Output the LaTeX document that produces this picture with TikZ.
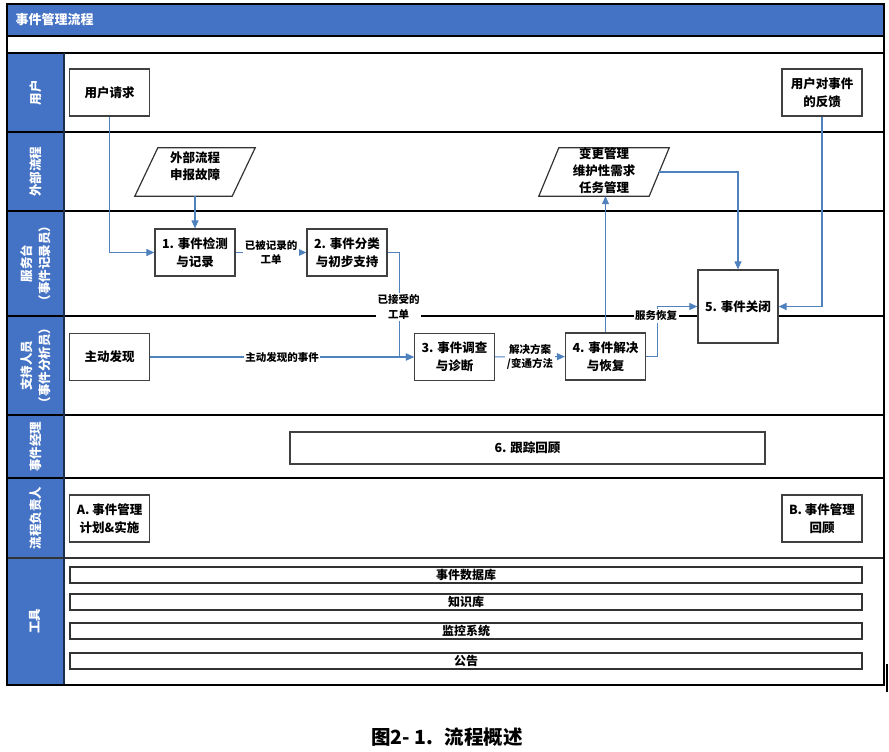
\documentclass[tikz,border=0pt]{standalone}
\usepackage{fontspec}
\newfontfamily\cjk{Noto Sans CJK SC}
\usetikzlibrary{arrows.meta}
\definecolor{laneblue}{RGB}{68,114,196}
\definecolor{flowblue}{RGB}{79,129,189}
\tikzset{
  box/.style = {draw = black!75, line width = 1.2pt, fill = white, align = center,
    minimum width = 80pt, minimum height = 47pt, inner sep = 0pt,
    font = \cjk\bfseries\fontsize{12.5}{18}\selectfont},
  boxtxt/.style = {align = center, inner sep = 0pt,
    font = \cjk\bfseries\fontsize{12.5}{17}\selectfont},
  paraframe/.style = {minimum height = 48pt, inner sep = 0pt},
  paraline/.style = {draw = black!80, line width = 1.2pt},
  flow/.style = {draw = flowblue, line width = 1.1pt, -{Triangle[length = 8pt, width = 7pt]}},
  lbl/.style = {fill = white, inner sep = 1.5pt, align = center,
    font = \cjk\bfseries\fontsize{10.5}{14.5}\selectfont},
  lanetxt/.style = {rotate = 90, text = white, align = center,
    font = \cjk\bfseries\fontsize{12.5}{18}\selectfont},
  toolbar/.style = {draw = black!80, line width = 1.2pt, minimum width = 792pt,
    minimum height = 16pt, inner sep = 0pt,
    font = \cjk\bfseries\fontsize{12}{14}\selectfont}
}
\begin{document}
\begin{tikzpicture}[x = 1pt, y = -1pt]
\useasboundingbox (0, 0) rectangle (889, 752);
% header and swim lanes
\fill[laneblue] (7, 4) rectangle (884, 36);
\fill[laneblue] (7, 53) rectangle (64, 685);
\node[anchor = west, text = white, font = \cjk\bfseries\fontsize{13}{15}\selectfont]
  (title) at (12, 20) {事件管理流程};
\foreach \y in {36, 53, 132, 211, 316, 415, 478}
  \draw[line width = 1.2pt] (7, \y) -- (884, \y);
\draw[line width = 1.6pt, black!80] (7, 558) -- (884, 558);
\draw[line width = 1.2pt, black!60!laneblue] (64, 53) -- (64, 685);
\draw[line width = 1.4pt] (7, 4) rectangle (884, 685);
\foreach \yc/\txt [count = \i] in {92.5/用户, 171.5/外部流程, 263.5/{服务台\\（事件记录员）},
    365.5/{支持人员\\（事件分析员）}, 446.5/事件经理, 518/流程负责人, 621/工具}
  \node[lanetxt] (lane\i) at (35.5, \yc) {\txt};

% process boxes
\node[box] (req) at (109.5, 92.5) {用户请求};
\node[box] (fb) at (822, 92.5) {用户对事件\\的反馈};
\node[paraframe, minimum width = 97pt] (ext) at (195, 172) {};
\draw[paraline] ([xshift = -11.5pt]ext.south west) -- ([xshift = 11.5pt]ext.north west) --
  ([xshift = 11.5pt]ext.north east) -- ([xshift = -11.5pt]ext.south east) -- cycle;
\node[boxtxt] (exttxt) at ([yshift = 6pt]ext.center) {外部流程\\申报故障};
\node[paraframe, minimum width = 110pt] (chg) at (604, 172) {};
\draw[paraline] ([xshift = -10pt]chg.south west) -- ([xshift = 10pt]chg.north west) --
  ([xshift = 10pt]chg.north east) -- ([xshift = -10pt]chg.south east) -- cycle;
\node[boxtxt] (chgtxt) at ([yshift = 1pt]chg.center) {变更管理\\维护性需求\\任务管理};
\node[box] (box1) at (195, 252.5) {1. 事件检测\\与记录};
\node[box] (box2) at (347, 252.5) {2. 事件分类\\与初步支持};
\node[box] (find) at (109.5, 357) {主动发现};
\node[box] (box3) at (454.5, 357) {3. 事件调查\\与诊断};
\node[box] (box4) at (605.5, 356.5) {4. 事件解决\\与恢复};
\node[box, minimum height = 73pt] (box5) at (738, 306.5) {5. 事件关闭};
\node[box, minimum width = 475pt, minimum height = 32pt] (review) at (527.5, 448) {6. 跟踪回顾};
\node[box] (planA) at (109.5, 518.5) {A. 事件管理\\计划\&实施};
\node[box] (reviewB) at (822, 518.5) {B. 事件管理\\回顾};
\foreach \yc/\txt [count = \i] in {575/事件数据库, 602/知识库, 631/监控系统, 661/公告}
  \node[toolbar] (tool\i) at (466, \yc) {\txt};

% connectors
\draw[flow] (req) |- (box1);
\draw[flow] (ext) -- (box1);
\draw[flow] (box1) -- node[lbl] (lblrec) {已被记录的\\工单} (box2);
\draw[flow] (box2.east) -- ++(11.5, 0) coordinate (accx) |- (box3.west);
\node[lbl] (lblacc) at (398.5, 307) {已接受的\\工单};
\draw[flow] (find) -- node[lbl] (lblfind) {主动发现的事件} (box3);
\draw[flow] (box3) -- node[lbl] (lblsol) {解决方案\\/变通方法} (box4);
\draw[flow] (box4.north) -- (box4.north |- chg.south);
\draw[flow] (box4.east) -- ++(11, 0) coordinate (resx) |- (box5.west);
\node[lbl] (lblres) at (656, 316) {服务恢复};
\draw[flow] (chg.east) -| (box5.north);
\draw[flow] (fb) |- (box5.east);

\draw[line width = 2pt] (887, 664) -- (887, 692);
\node[font = \cjk\bfseries\fontsize{19.5}{22}\selectfont] (cap) at (447, 737)
  {图2- 1.\hspace{0.6em}流程概述};
\end{tikzpicture}
\end{document}
